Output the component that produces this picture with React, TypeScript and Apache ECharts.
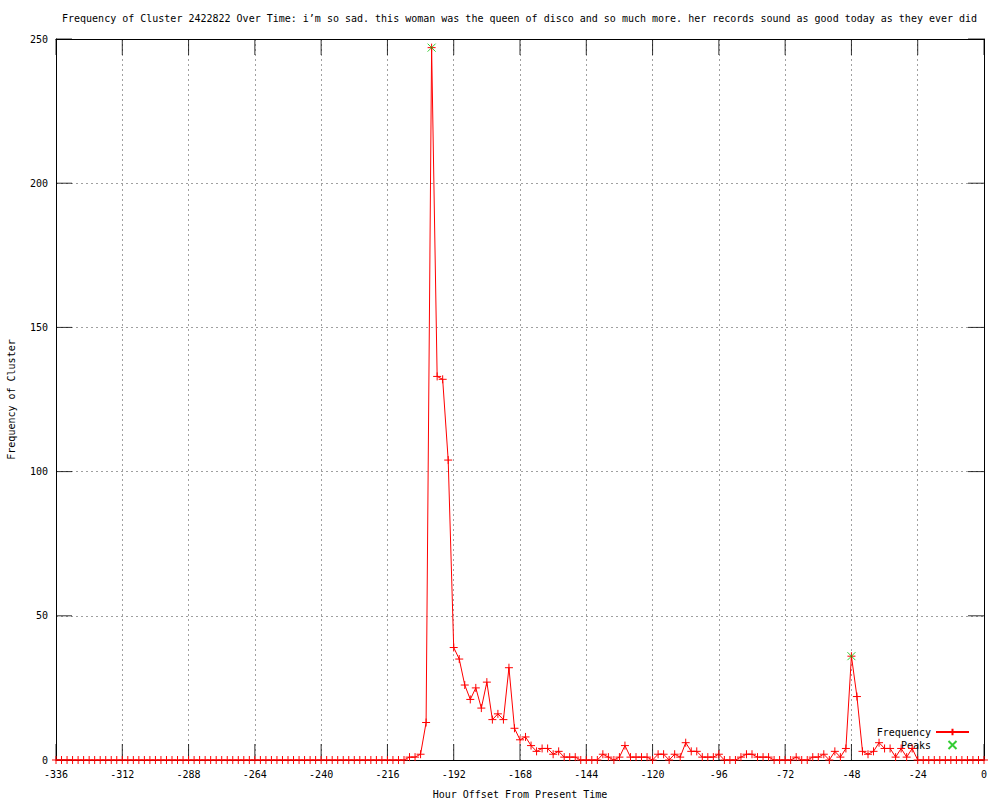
import React, { useEffect, useRef } from "react";
import * as echarts from "echarts";

const TITLE =
  "Frequency of Cluster 2422822 Over Time: i’m so sad. this woman was the queen of disco and so much more. her records sound as good today as they ever did";
const X_NAME = "Hour Offset From Present Time";
const Y_NAME = "Frequency of Cluster";

const hours: number[] = [
  -336, -334, -332, -330, -328, -326, -324, -322, -320, -318, -316, -314, -312,
  -310, -308, -306, -304, -302, -300, -298, -296, -294, -292, -290, -288, -286,
  -284, -282, -280, -278, -276, -274, -272, -270, -268, -266, -264, -262, -260,
  -258, -256, -254, -252, -250, -248, -246, -244, -242, -240, -238, -236, -234,
  -232, -230, -228, -226, -224, -222, -220, -218, -216, -214, -212, -210, -208,
  -206, -204, -202, -200, -198, -196, -194, -192, -190, -188, -186, -184, -182,
  -180, -178, -176, -174, -172, -170, -168, -166, -164, -162, -160, -158, -156,
  -154, -152, -150, -148, -146, -144, -142, -140, -138, -136, -134, -132, -130,
  -128, -126, -124, -122, -120, -118, -116, -114, -112, -110, -108, -106, -104,
  -102, -100, -98, -96, -94, -92, -90, -88, -86, -84, -82, -80, -78, -76, -74,
  -72, -70, -68, -66, -64, -62, -60, -58, -56, -54, -52, -50, -48, -46, -44,
  -42, -40, -38, -36, -34, -32, -30, -28, -26, -24, -22, -20, -18, -16, -14,
  -12, -10, -8, -6, -4, -2, 0,
];

const frequency: number[] = [
  // -336 .. -210
  0, 0, 0, 0, 0, 0, 0, 0, 0, 0, 0, 0, 0, 0, 0, 0, 0, 0, 0, 0, 0, 0, 0, 0, 0, 0,
  0, 0, 0, 0, 0, 0, 0, 0, 0, 0, 0, 0, 0, 0, 0, 0, 0, 0, 0, 0, 0, 0, 0, 0, 0, 0,
  0, 0, 0, 0, 0, 0, 0, 0, 0, 0, 0, 0,
  // -208 .. -170
  1, 1, 2, 13, 247, 133, 132, 104, 39, 35, 26, 21, 25, 18, 27, 14, 16, 14, 32, 11,
  // -168 .. -130
  7, 8, 5, 3, 4, 4, 2, 3, 1, 1, 1, 0, 0, 0, 0, 2, 1, 0, 1, 5,
  // -128 .. -90
  1, 1, 1, 1, 0, 2, 2, 0, 2, 1, 6, 3, 3, 1, 1, 1, 2, 0, 0, 0,
  // -88 .. -50
  1, 2, 2, 1, 1, 1, 0, 0, 0, 0, 1, 0, 0, 1, 1, 2, 0, 3, 1, 4,
  // -48 .. -10
  36, 22, 3, 2, 3, 6, 4, 4, 1, 4, 1, 4, 0, 0, 0, 0, 0, 0, 0, 0,
  // -8 .. 0
  0, 0, 0, 0, 0,
];

const peakHours: number[] = [-200, -48];
const peakValues: number[] = [247, 36];

const xTickValues: number[] = [
  -336, -312, -288, -264, -240, -216, -192, -168, -144, -120, -96, -72, -48, -24, 0,
];
const yTickValues: number[] = [0, 50, 100, 150, 200, 250];

const X_MIN = -336;
const X_MAX = 0;
const X_STEP = 24;
const Y_MIN = 0;
const Y_MAX = 250;
const Y_STEP = 50;

const FONT = "DejaVu Sans Mono";
const TICK_LEN = 16;

function tickSeries(data: number[][], vertical: boolean, sign: number) {
  // Inward gnuplot-style tick drawn as a thin rect symbol anchored on the border.
  return {
    type: "scatter",
    xAxisIndex: 0,
    yAxisIndex: 0,
    data,
    symbol: "rect",
    symbolSize: vertical ? [1, TICK_LEN] : [TICK_LEN, 1],
    symbolOffset: vertical ? [0, (sign * TICK_LEN) / 2] : [(sign * TICK_LEN) / 2, 0],
    clip: false,
    silent: true,
    itemStyle: { color: "#000000", borderWidth: 0 },
    emphasis: { disabled: true },
    z: 5,
  };
}

export default function App() {
  const ref = useRef<HTMLDivElement>(null);

  useEffect(() => {
    if (!ref.current) return;
    const chart = echarts.init(ref.current, null, { renderer: "svg" });

    const textStyle = { fontFamily: FONT, fontSize: 10, color: "#000" };
    const blackLine = { show: true, onZero: false, lineStyle: { color: "#000", width: 1 } };
    const grayGrid = { show: true, lineStyle: { color: "#a0a0a0", type: [2, 3], width: 1 } };

    chart.setOption({
      animation: false,
      backgroundColor: "#fff",
      title: {
        text: TITLE,
        left: 62,
        top: 13,
        padding: 0,
        textStyle: { ...textStyle, fontWeight: "normal" },
      },
      legend: {
        data: ["Frequency", "Peaks"],
        orient: "vertical",
        align: "right",
        right: 30,
        top: 727,
        itemWidth: 33,
        itemHeight: 8,
        itemGap: 3,
        padding: 0,
        selectedMode: false,
        textStyle: { ...textStyle },
      },
      grid: {
        left: 56,
        right: 16,
        top: 39,
        bottom: 40,
        containLabel: false,
        outerBoundsMode: "none",
      },
      xAxis: [
        {
          type: "value",
          min: X_MIN,
          max: X_MAX,
          interval: X_STEP,
          position: "bottom",
          name: X_NAME,
          nameLocation: "middle",
          nameGap: 29,
          nameTextStyle: { ...textStyle },
          axisLine: blackLine,
          axisTick: { show: false },
          axisLabel: { ...textStyle, margin: 9 },
          splitLine: grayGrid,
        },
        {
          type: "value",
          min: X_MIN,
          max: X_MAX,
          interval: X_STEP,
          position: "top",
          axisLine: blackLine,
          axisTick: { show: false },
          axisLabel: { show: false },
          splitLine: { show: false },
        },
      ],
      yAxis: [
        {
          type: "value",
          min: Y_MIN,
          max: Y_MAX,
          interval: Y_STEP,
          position: "left",
          name: Y_NAME,
          nameLocation: "middle",
          nameGap: 40,
          nameTextStyle: { ...textStyle },
          axisLine: blackLine,
          axisTick: { show: false },
          axisLabel: { ...textStyle, margin: 8 },
          splitLine: grayGrid,
        },
        {
          type: "value",
          min: Y_MIN,
          max: Y_MAX,
          interval: Y_STEP,
          position: "right",
          axisLine: blackLine,
          axisTick: { show: false },
          axisLabel: { show: false },
          splitLine: { show: false },
        },
      ],
      series: [
        tickSeries(xTickValues.map((v) => [v, Y_MIN]), true, -1),
        tickSeries(xTickValues.map((v) => [v, Y_MAX]), true, 1),
        tickSeries(yTickValues.map((v) => [X_MIN, v]), false, 1),
        tickSeries(yTickValues.map((v) => [X_MAX, v]), false, -1),
        {
          name: "Frequency",
          type: "line",
          xAxisIndex: 0,
          yAxisIndex: 0,
          data: hours.map((h, i) => [h, frequency[i]]),
          symbol: "path://M0,5L10,5M5,0L5,10",
          symbolSize: 8,
          showSymbol: true,
          showAllSymbol: true,
          clip: false,
          silent: true,
          lineStyle: { color: "#ff0000", width: 1 },
          itemStyle: { color: "#ff0000", borderColor: "#ff0000", borderWidth: 1 },
          emphasis: { disabled: true },
          z: 6,
        },
        {
          name: "Peaks",
          type: "scatter",
          xAxisIndex: 0,
          yAxisIndex: 0,
          data: peakHours.map((h, i) => [h, peakValues[i]]),
          symbol: "path://M0,0L10,10M10,0L0,10",
          symbolSize: 8,
          clip: false,
          silent: true,
          itemStyle: { color: "#00c000", borderColor: "#00c000", borderWidth: 1 },
          emphasis: { disabled: true },
          z: 7,
        },
      ],
    });

    return () => chart.dispose();
  }, []);

  return (
    <div
      ref={ref}
      style={{ position: "absolute", left: 0, top: 0, width: 1000, height: 800 }}
    />
  );
}
